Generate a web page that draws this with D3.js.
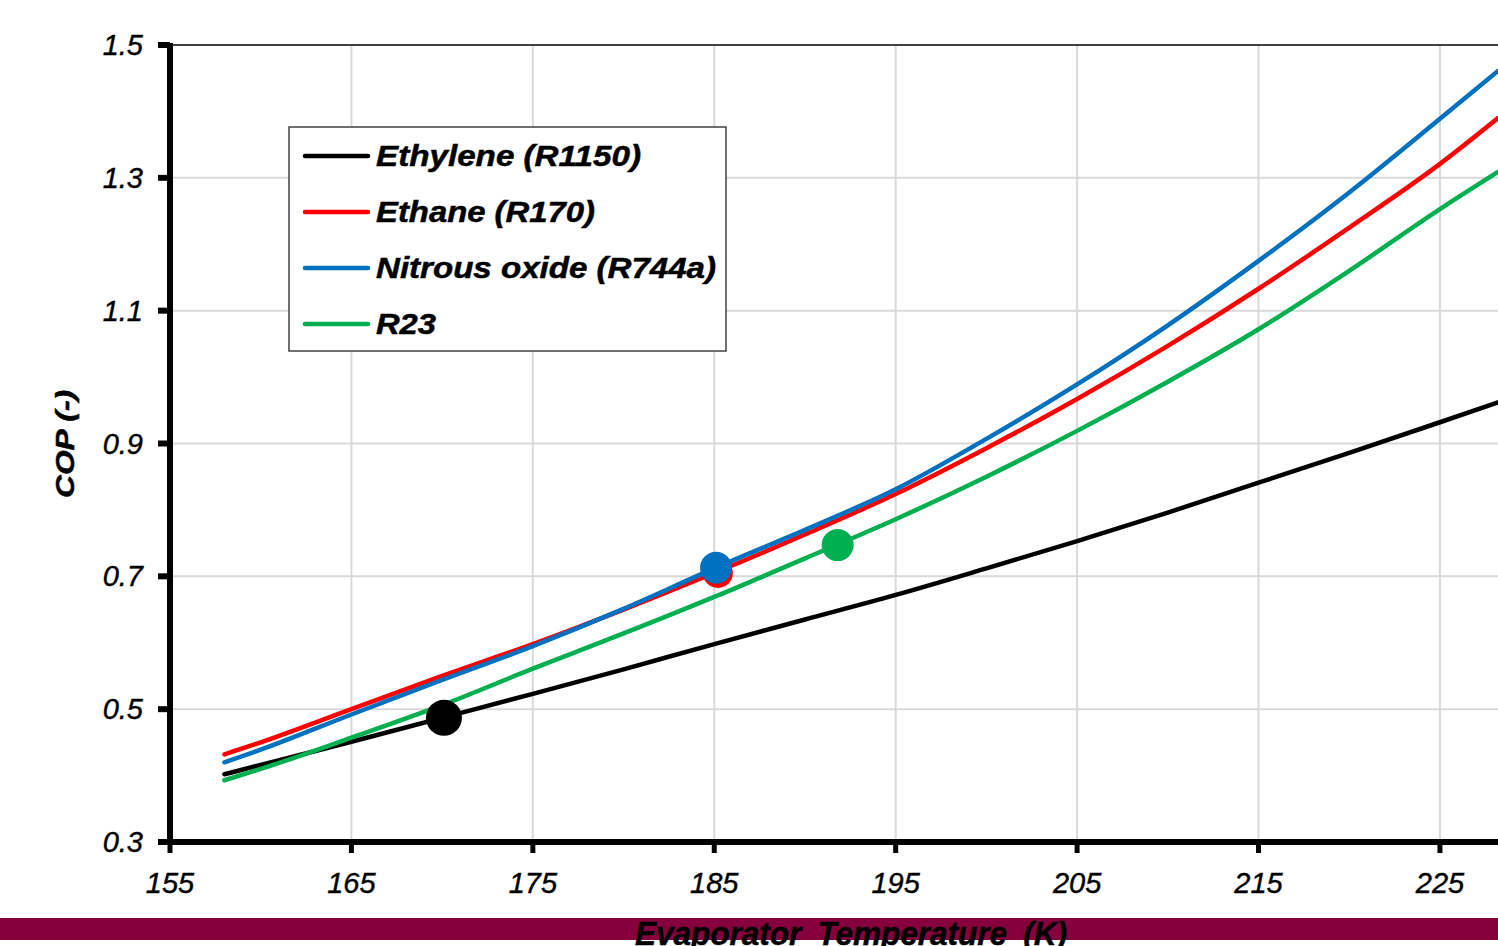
<!DOCTYPE html>
<html>
<head>
<meta charset="utf-8">
<script src="https://cdn.jsdelivr.net/npm/d3@7"></script>
<style>
  body { margin: 0; background: #fff; }
  svg { display: block; }
  .tick-label { font-family: "Liberation Sans", Arial, sans-serif; font-style: italic; font-size: 29px; fill: #000; stroke: #000; stroke-width: 0.4px; }
  .bold-it { font-family: "Liberation Sans", Arial, sans-serif; font-style: italic; font-weight: bold; fill: #000; stroke: #000; stroke-width: 0.5px; }
</style>
</head>
<body>
<div id="chart"></div>
<script>
var width = 1498
var height = 946

// evaporator temperature (K)
var temps = [158, 160, 165, 170, 175, 180, 185, 190, 195, 200, 205, 210, 215, 220, 225, 228.2];

// COP
var ethylene = [0.402, 0.416, 0.451, 0.487, 0.523, 0.560, 0.598, 0.635, 0.672, 0.712, 0.753, 0.796, 0.841, 0.886, 0.932, 0.962];
var ethane   = [0.432, 0.450, 0.500, 0.550, 0.598, 0.650, 0.705, 0.763, 0.824, 0.893, 0.967, 1.047, 1.133, 1.225, 1.321, 1.390];
var nitrous  = [0.420, 0.439, 0.492, 0.544, 0.595, 0.651, 0.712, 0.770, 0.831, 0.907, 0.989, 1.078, 1.175, 1.278, 1.389, 1.461];
var r23      = [0.393, 0.410, 0.457, 0.506, 0.561, 0.614, 0.669, 0.727, 0.786, 0.850, 0.919, 0.993, 1.072, 1.160, 1.253, 1.309];

var seriesNames = ["Ethylene (R1150)", "Ethane (R170)", "Nitrous oxide (R744a)", "R23"];
var seriesColors = ["#000000", "#ff0000", "#0070c0", "#00b050"];
var seriesValues = [ethylene, ethane, nitrous, r23];

// boiling-point markers
var markerTemps = [170.1, 185.2, 185.1, 191.8];
var markerCops = [0.487, 0.705, 0.713, 0.747];
var markerRadius = [18, 15, 16, 16];

var xTicks = [155, 165, 175, 185, 195, 205, 215, 225];
var yTicks = [0.3, 0.5, 0.7, 0.9, 1.1, 1.3, 1.5];

// rendered widths of the legend labels
var legendTextWidths = [265, 219, 340, 60];

var svg = d3.select("#chart").append("svg").attr("width", width).attr("height", height)

var x = d3.scaleLinear().domain([155, 228.2]).range([170, 1498]);
var y = d3.scaleLinear().domain([0.3, 1.5]).range([842, 45]);

// grid
svg.append("g").selectAll("line")
    .data(xTicks.slice(1))
    .enter().append("line")
    .attr("x1", d => x(d)).attr("x2", d => x(d))
    .attr("y1", y(1.5)).attr("y2", y(0.3))
    .attr("stroke", "#d9d9d9").attr("stroke-width", 2);

svg.append("g").selectAll("line")
    .data(yTicks.slice(1, -1))
    .enter().append("line")
    .attr("x1", x(155)).attr("x2", width)
    .attr("y1", d => y(d)).attr("y2", d => y(d))
    .attr("stroke", "#d9d9d9").attr("stroke-width", 2);

// top border
svg.append("line")
    .attr("x1", x(155)).attr("x2", width)
    .attr("y1", y(1.5)).attr("y2", y(1.5))
    .attr("stroke", "#404040").attr("stroke-width", 2);

// curves
var line = d3.line()
    .x(d => x(d[0]))
    .y(d => y(d[1]))
    .curve(d3.curveMonotoneX);

seriesValues.forEach(function (vals, i) {
    svg.append("path")
        .datum(temps.map((t, j) => [t, vals[j]]))
        .attr("d", line)
        .attr("fill", "none")
        .attr("stroke", seriesColors[i])
        .attr("stroke-width", 4.5)
        .attr("stroke-linecap", "round");
});

// markers (red drawn before blue)
[0, 1, 3, 2].forEach(function (i) {
    svg.append("circle")
        .attr("cx", x(markerTemps[i]))
        .attr("cy", y(markerCops[i]))
        .attr("r", markerRadius[i])
        .attr("fill", seriesColors[i]);
});

// axes
var yAxis = svg.append("g");
yAxis.append("line")
    .attr("x1", 170).attr("x2", 170)
    .attr("y1", y(1.5) - 2).attr("y2", y(0.3) + 3)
    .attr("stroke", "#000").attr("stroke-width", 6);
yAxis.selectAll(".yt")
    .data(yTicks)
    .enter().append("line")
    .attr("x1", 158).attr("x2", 170)
    .attr("y1", d => y(d)).attr("y2", d => y(d))
    .attr("stroke", "#000").attr("stroke-width", 6);
yAxis.selectAll("text")
    .data(yTicks)
    .enter().append("text")
    .attr("class", "tick-label")
    .attr("x", 143)
    .attr("y", d => y(d) + 10)
    .attr("text-anchor", "end")
    .text(d => d.toFixed(1));

var xAxis = svg.append("g");
xAxis.append("line")
    .attr("x1", 167).attr("x2", width)
    .attr("y1", 842).attr("y2", 842)
    .attr("stroke", "#000").attr("stroke-width", 6);
xAxis.selectAll(".xt")
    .data(xTicks)
    .enter().append("line")
    .attr("x1", d => x(d)).attr("x2", d => x(d))
    .attr("y1", 842).attr("y2", 853)
    .attr("stroke", "#000").attr("stroke-width", 5);
xAxis.selectAll("text")
    .data(xTicks)
    .enter().append("text")
    .attr("class", "tick-label")
    .attr("x", d => x(d))
    .attr("y", 893)
    .attr("text-anchor", "middle")
    .text(d => d);

// y title
svg.append("text")
    .attr("class", "bold-it")
    .attr("transform", "translate(74, 444) rotate(-90)")
    .attr("text-anchor", "middle")
    .attr("textLength", 108)
    .attr("lengthAdjust", "spacingAndGlyphs")
    .style("font-size", "25px")
    .text("COP (-)");

// maroon band + x title
svg.append("rect")
    .attr("x", 0).attr("y", 918)
    .attr("width", width).attr("height", 22)
    .attr("fill", "#85003c");

svg.append("text")
    .attr("class", "bold-it")
    .attr("x", 635).attr("y", 945)
    .attr("textLength", 432)
    .attr("lengthAdjust", "spacingAndGlyphs")
    .style("font-size", "34px")
    .style("word-spacing", "8px")
    .text("Evaporator Temperature (K)");

// legend
var legend = svg.append("g");
legend.append("rect")
    .attr("x", 289).attr("y", 127)
    .attr("width", 437).attr("height", 224)
    .attr("fill", "#fff")
    .attr("stroke", "#404040").attr("stroke-width", 1.5);

var legendItem = legend.selectAll(".legend-item")
    .data(seriesNames)
    .enter().append("g")
    .attr("transform", (d, i) => `translate(0, ${156 + i * 56})`);

legendItem.append("line")
    .attr("x1", 305).attr("x2", 368)
    .attr("y1", 0).attr("y2", 0)
    .attr("stroke", (d, i) => seriesColors[i])
    .attr("stroke-width", 4.5)
    .attr("stroke-linecap", "round");

legendItem.append("text")
    .attr("class", "bold-it")
    .attr("x", 376).attr("y", 10)
    .attr("textLength", (d, i) => legendTextWidths[i])
    .attr("lengthAdjust", "spacingAndGlyphs")
    .style("font-size", "29px")
    .text(d => d);
</script>
</body>
</html>
